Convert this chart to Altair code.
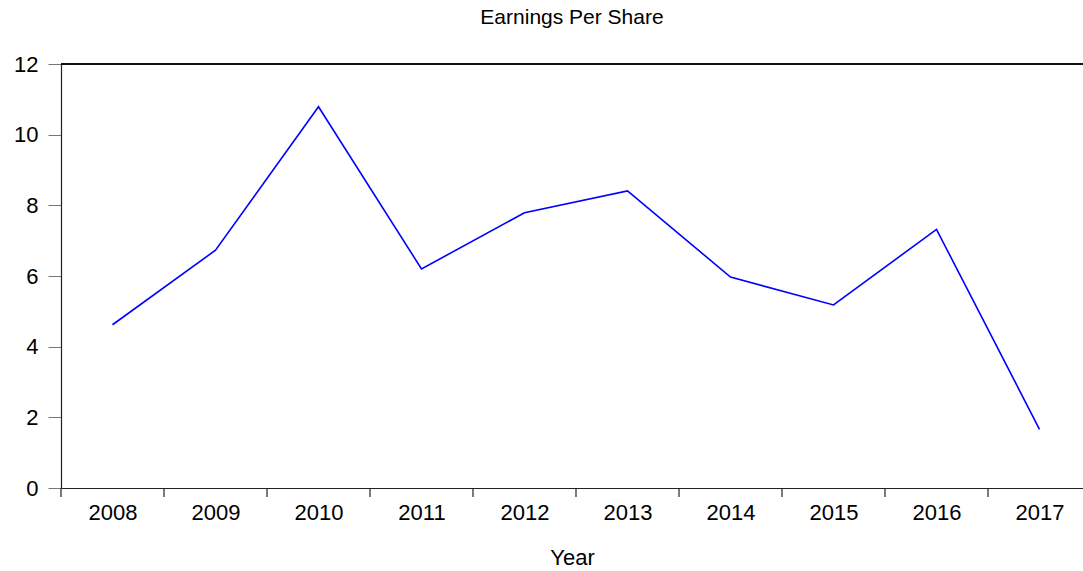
import altair as alt
import pandas as pd

years = [2008, 2009, 2010, 2011, 2012, 2013, 2014, 2015, 2016, 2017]
eps = [4.62, 6.73, 10.79, 6.20, 7.79, 8.41, 5.97, 5.18, 7.32, 1.66]
boundaries = [2007.5, 2008.5, 2009.5, 2010.5, 2011.5, 2012.5, 2013.5, 2014.5, 2015.5, 2016.5]
y_ticks = [0, 2, 4, 6, 8, 10, 12]

W = 1022
H = 424
FONT = "Liberation Sans"

df = pd.DataFrame({"Year": years, "EPS": eps})
bdf = pd.DataFrame({"b": boundaries})

x_scale = alt.Scale(domain=[2007.5, 2007.5 + W / 103.0], nice=False, zero=False)

line = alt.Chart(df).mark_line(color="#0000FF", strokeWidth=1.6).encode(
    x=alt.X("Year:Q", scale=x_scale,
            axis=alt.Axis(values=years, format="d", ticks=False, tickSize=0,
                          labelPadding=14, grid=False, domainColor="#222222",
                          domainWidth=1.2, labelFont=FONT, labelFontSize=22,
                          labelColor="black", title="Year", titleFont=FONT,
                          titleFontSize=22, titleFontWeight="normal",
                          titleColor="black", titlePadding=24,
                          labelFlush=False, labelOverlap=False)),
    y=alt.Y("EPS:Q", scale=alt.Scale(domain=[0, 12], nice=False),
            axis=alt.Axis(values=y_ticks, tickSize=13, tickColor="#777777",
                          labelPadding=10, grid=False, domainColor="#222222",
                          domainWidth=1.2, labelFont=FONT, labelFontSize=22,
                          labelColor="black", title=None,
                          labelFlush=False, labelOverlap=False)),
)

ticks = alt.Chart(bdf).mark_rule(color="#222222", strokeWidth=1.2).encode(
    x=alt.X("b:Q", scale=x_scale),
    y=alt.value(H),
    y2=alt.value(H + 9),
)

top = alt.Chart(df).mark_rule(color="#111111", strokeWidth=1.3).encode(
    x=alt.value(0), x2=alt.value(W), y=alt.value(0)
)

chart = alt.layer(line, ticks, top).properties(
    width=W,
    height=H,
    padding={"left": 61, "top": 64, "right": 0, "bottom": 83},
    autosize=alt.AutoSizeParams(type="none"),
    title=alt.TitleParams("Earnings Per Share", font=FONT, fontSize=21,
                          fontWeight="normal", color="black", anchor="middle",
                          offset=25),
).configure_view(stroke=None).configure(background="white")

chart.save("out.html", embed_options={"renderer": "svg", "actions": False})
